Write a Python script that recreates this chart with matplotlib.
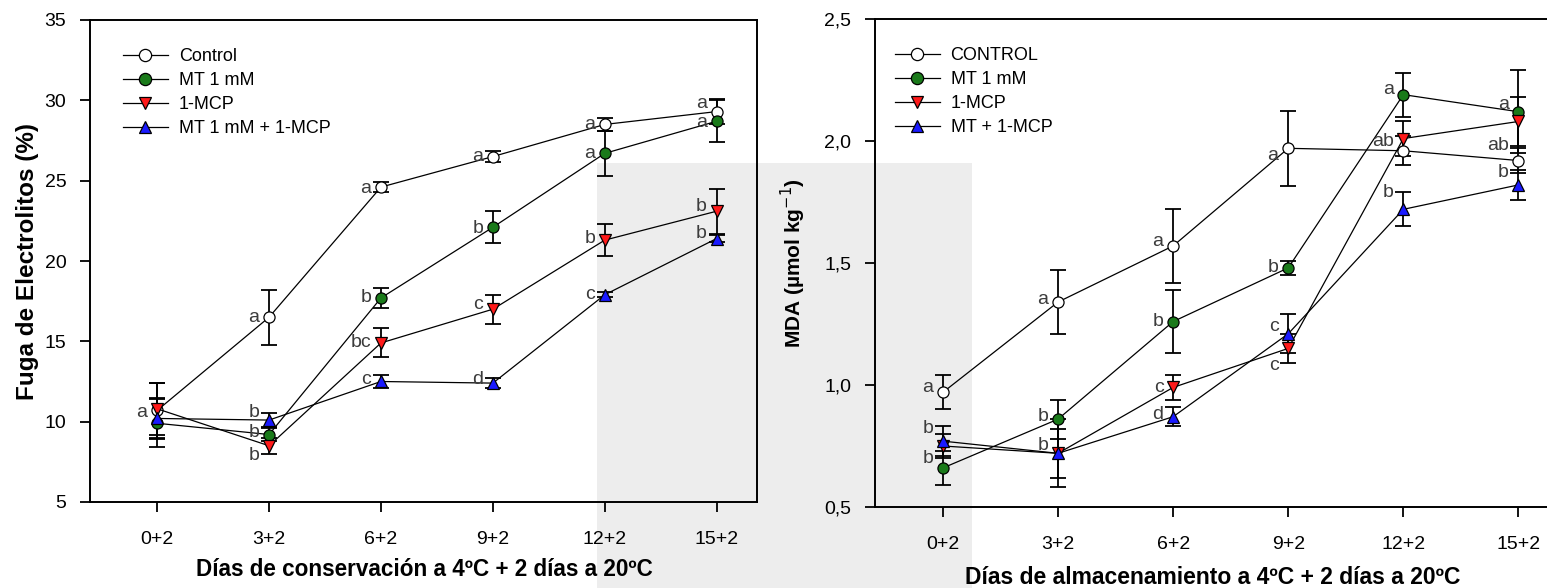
import matplotlib
matplotlib.use("Agg")
import matplotlib.pyplot as plt
import matplotlib.patches as mpatches
from matplotlib import font_manager
import numpy as np

# ---- data -------------------------------------------------------------
days = ["0+2", "3+2", "6+2", "9+2", "12+2", "15+2"]

# electrolyte leakage (%)
el_control = [10.7, 16.5, 24.6, 26.5, 28.5, 29.3]
el_control_err = [1.7, 1.7, 0.3, 0.35, 0.4, 0.8]
el_mt = [9.9, 9.2, 17.7, 22.1, 26.7, 28.7]
el_mt_err = [1.5, 0.4, 0.6, 1.0, 1.4, 1.3]
el_mcp = [10.8, 8.5, 14.9, 17.0, 21.3, 23.1]
el_mcp_err = [1.6, 0.5, 0.9, 0.9, 1.0, 1.4]
el_mtmcp = [10.2, 10.1, 12.5, 12.4, 17.9, 21.4]
el_mtmcp_err = [1.3, 0.45, 0.4, 0.3, 0.15, 0.2]

el_letters = {
    "control": ["a", "a", "a", "a", "a", "a"],
    "mt": ["", "b", "b", "b", "a", "a"],
    "mcp": ["", "b", "bc", "c", "b", "b"],
    "mtmcp": ["", "b", "c", "d", "c", "b"],
}

# MDA (umol kg-1)
mda_control = [0.97, 1.34, 1.57, 1.97, 1.96, 1.92]
mda_control_err = [0.07, 0.13, 0.15, 0.155, 0.06, 0.05]
mda_mt = [0.66, 0.86, 1.26, 1.48, 2.19, 2.12]
mda_mt_err = [0.07, 0.08, 0.13, 0.03, 0.09, 0.17]
mda_mcp = [0.75, 0.72, 0.99, 1.15, 2.01, 2.08]
mda_mcp_err = [0.05, 0.10, 0.05, 0.06, 0.07, 0.10]
mda_mtmcp = [0.77, 0.72, 0.87, 1.21, 1.72, 1.82]
mda_mtmcp_err = [0.06, 0.14, 0.04, 0.08, 0.07, 0.06]

mda_letters = {
    "control": ["a", "a", "a", "a", "ab", "ab"],
    "mt": ["b", "b", "b", "b", "a", "a"],
    "mcp": ["", "", "c", "c", "", ""],
    "mtmcp": ["b", "b", "d", "c", "b", "b"],
}

# ---- letter placement (y of each letter, data units) ----
el_letter_y = {
    "control": [10.6, 16.5, 24.5, 26.5, 28.5, 29.8],
    "mt": [None, 9.3, 17.7, 22.0, 26.7, 28.6],
    "mcp": [None, 7.9, 14.9, 17.3, 21.4, 23.4],
    "mtmcp": [None, 10.6, 12.6, 12.6, 17.9, 21.7],
}
mda_letter_y = {
    "control": [0.99, 1.35, 1.59, 1.94, 2.0, 1.98],
    "mt": [0.70, 0.87, 1.26, 1.48, 2.21, 2.15],
    "mcp": [None, None, 0.99, 1.08, None, None],
    "mtmcp": [0.82, 0.75, 0.88, 1.24, 1.79, 1.87],
}

styles = {
    "control": dict(marker="o", mfc="white"),
    "mt": dict(marker="o", mfc="#1a7a1a"),
    "mcp": dict(marker="v", mfc="#ff1a1a"),
    "mtmcp": dict(marker="^", mfc="#1a1aff"),
}

names = {f.name for f in font_manager.fontManager.ttflist}
plain = ["Liberation Sans", "DejaVu Sans"]
narrow = ["Liberation Sans Narrow"] + plain if "Liberation Sans Narrow" in names else plain
letter_color = "#3c3c3c"

fig = plt.figure(figsize=(15.47, 5.88), dpi=100)

# light grey watermark block behind the plots
fig.patches.append(mpatches.Rectangle((597 / 1547, 0), (972 - 597) / 1547, 1 - 163 / 588,
                                      transform=fig.transFigure, facecolor="#ededed",
                                      edgecolor="none", zorder=-5))

ax1 = fig.add_axes([90 / 1547, 1 - 502 / 588, (757 - 90) / 1547, (502 - 20) / 588])
ax2 = fig.add_axes([875 / 1547, 1 - 507 / 588, 678 / 1547, (507 - 19) / 588])
for ax in (ax1, ax2):
    ax.set_facecolor("none")
    ax.set_zorder(2)

x = np.arange(len(days))


def draw(ax, series, letters, letter_y, labels):
    for key, (vals, errs), lab in zip(["control", "mt", "mcp", "mtmcp"], series, labels):
        st = styles[key]
        ax.errorbar(x, vals, yerr=errs, fmt="none", ecolor="black", elinewidth=1.3,
                    capsize=5.5, capthick=1.3, zorder=2)
        ax.plot(x, vals, color="black", lw=0.9, marker=st["marker"], ms=8,
                mfc=st["mfc"], mec="black", mew=0.9, label=lab, zorder=3)
        for xi, t, ly in zip(x, letters[key], letter_y[key]):
            if t and ly is not None:
                ax.annotate(t, (xi, ly), xytext=(-7, 0), textcoords="offset points",
                            ha="right", va="center", fontsize=14, color=letter_color,
                            family=plain, zorder=4)


draw(ax1, [(el_control, el_control_err), (el_mt, el_mt_err),
           (el_mcp, el_mcp_err), (el_mtmcp, el_mtmcp_err)],
     el_letters, el_letter_y,
     ["Control", "MT 1 mM", "1-MCP", "MT 1 mM + 1-MCP"])
draw(ax2, [(mda_control, mda_control_err), (mda_mt, mda_mt_err),
           (mda_mcp, mda_mcp_err), (mda_mtmcp, mda_mtmcp_err)],
     mda_letters, mda_letter_y,
     ["CONTROL", "MT 1 mM", "1-MCP", "MT + 1-MCP"])

ax1.set_xlim(-0.6, 5.36)
ax1.set_ylim(5, 35)
ax1.set_yticks([5, 10, 15, 20, 25, 30, 35])
ax1.set_ylabel("Fuga de Electrolitos (%)", fontsize=17.5, fontweight="bold",
               family=plain, labelpad=4)

ax2.set_xlim(-0.59, 5.3)
ax2.set_ylim(0.5, 2.5)
ax2.set_yticks([0.5, 1.0, 1.5, 2.0, 2.5])
ax2.set_yticklabels(["0,5", "1,0", "1,5", "2,0", "2,5"])
ax2.spines["right"].set_visible(False)
ax2.set_ylabel("MDA (µmol kg$^{-1}$)", fontsize=15, fontweight="bold",
               family=plain, labelpad=12)

for ax in (ax1, ax2):
    ax.set_xticks(x)
    ax.set_xticklabels(days)
    ax.tick_params(direction="out", length=7, width=1.3, labelsize=14, pad=10)
    ax.tick_params(axis="x", pad=14)
    for lbl in ax.get_xticklabels() + ax.get_yticklabels():
        lbl.set_family(narrow)
    for sp in ax.spines.values():
        sp.set_linewidth(1.4)

# x titles placed in figure pixels, shrunk to the width seen in the original
xt1 = fig.text(424 / 1547, 1 - 570 / 588, "Días de conservación a 4ºC + 2 días a 20ºC",
               ha="center", va="center", fontsize=16, fontweight="bold", family=narrow)
xt2 = fig.text(1213 / 1547, 1 - 577 / 588, "Días de almacenamiento a 4ºC + 2 días a 20ºC",
               ha="center", va="center", fontsize=16, fontweight="bold", family=narrow)
fig.canvas.draw()
r = fig.canvas.get_renderer()
for t, target in ((xt1, 457), (xt2, 495)):
    w = t.get_window_extent(r).width
    t.set_fontsize(16 * target / w)

leg_kw = dict(loc="upper left", frameon=False, prop={"family": plain, "size": 13},
              handlelength=2.5, labelspacing=0.38, handletextpad=0.6, markerscale=1.1)
ax1.legend(bbox_to_anchor=(0.025, 0.975), **leg_kw)
ax2.legend(bbox_to_anchor=(0.005, 0.975), **leg_kw)

fig.savefig("out.png", dpi=100, facecolor="white")
